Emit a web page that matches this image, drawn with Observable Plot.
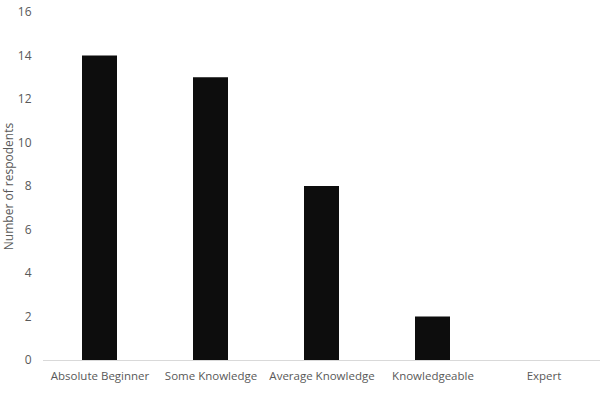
<!DOCTYPE html>
<html>
<head>
<meta charset="utf-8">
<script src="https://cdn.jsdelivr.net/npm/d3@7"></script>
<script src="https://cdn.jsdelivr.net/npm/@observablehq/plot@0.6"></script>
<style>
  html, body { margin: 0; padding: 0; background: #fff; }
  #chart svg { display: block; }
</style>
</head>
<body>
<div id="chart"></div>
<script>
const categories = ["Absolute Beginner", "Some Knowledge", "Average Knowledge", "Knowledgeable", "Expert"];
const respondents = [14, 13, 8, 2, 0];
const yTicks = [0, 2, 4, 6, 8, 10, 12, 14, 16];

const data = categories.map((c, i) => ({category: c, value: respondents[i]}));

const chart = Plot.plot({
  width: 607,
  height: 396,
  marginLeft: 43,
  marginRight: 7,
  marginTop: 12,
  marginBottom: 36,
  style: {fontFamily: "'Open Sans', sans-serif", fontSize: "11.5px", color: "#595959", background: "#fff"},
  x: {domain: categories, paddingInner: 0.686, paddingOuter: 0.343, align: 0.5},
  y: {domain: [0, 16]},
  marks: [
    Plot.axisY({ticks: yTicks, tickSize: 0, tickPadding: 12, label: null, fill: "#595959", fontSize: 12}),
    Plot.text(["Number of respodents"], {frameAnchor: "left", dx: -34.5, rotate: -90, textAnchor: "middle", lineAnchor: "middle", fill: "#595959", fontSize: 12}),
    Plot.axisX({tickSize: 0, tickPadding: 11, label: null, fill: "#595959"}),
    Plot.barY(data, {x: "category", y: "value", fill: "#0d0d0d"}),
    Plot.ruleY([0], {stroke: "#d9d9d9", strokeWidth: 1})
  ]
});
document.getElementById("chart").appendChild(chart);
</script>
</body>
</html>
